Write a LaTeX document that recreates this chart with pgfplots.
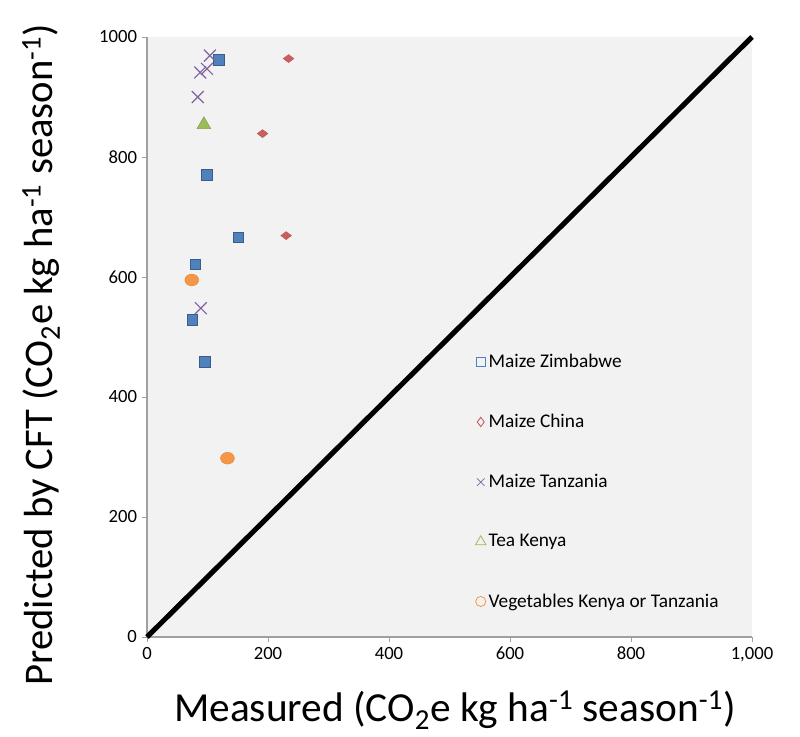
\documentclass[border=0pt]{standalone}
\usepackage{pgfplots}
\pgfplotsset{compat=1.18}
\usepackage{fontspec}
\setmainfont{Carlito}
\definecolor{cblue}{HTML}{4F81BD}
\definecolor{cblued}{HTML}{385D8A}
\definecolor{cred}{HTML}{C0504D}
\definecolor{cpurple}{HTML}{8064A2}
\definecolor{cgreen}{HTML}{9BBB59}
\definecolor{corange}{HTML}{F79646}
\definecolor{axgray}{HTML}{A0A0A0}
\begin{document}
\begin{tikzpicture}
\path[use as bounding box] (0,0) rectangle (600pt,552pt);
\begin{axis}[
  at={(110.25pt,74.25pt)}, anchor=south west,
  scale only axis, width=453.75pt, height=450pt,
  xmin=0, xmax=1000, ymin=0, ymax=1000,
  axis x line=bottom, axis y line=left,
  axis line style={draw=axgray, line width=0.8pt, -},
  axis background/.style={fill=gray!10},
  tick align=outside, major tick length=4pt,
  tick style={axgray, line width=0.6pt},
  xtick={0,200,400,600,800,1000},
  xticklabels={0,200,400,600,800,{1,000}},
  ytick={0,200,400,600,800,1000},
  yticklabels={0,200,400,600,800,1000},
  ticklabel style={font=\fontsize{14}{16}\selectfont},
  xlabel={Measured (CO\textsubscript{2}e kg ha\textsuperscript{-1} season\textsuperscript{-1})},
  ylabel={Predicted by CFT (CO\textsubscript{2}e kg ha\textsuperscript{-1} season\textsuperscript{-1})},
  xlabel style={at={(axis description cs:0.509,-0.122)}, anchor=center, font=\fontsize{31}{36}\selectfont},
  ylabel style={at={(axis description cs:-0.175,0.47)}, anchor=center, font=\fontsize{30.5}{36}\selectfont},
  clip=false,
  legend image code/.code={\draw[#1] plot coordinates {(0cm,0cm)};},
  legend style={at={(axis cs:536,481)}, anchor=north west, draw=none, fill=none,
    font=\fontsize{14.5}{16}\selectfont, row sep=29.6pt,
    /tikz/every even column/.append style={column sep=2pt}},
  legend cell align=left,
]
\addplot[black, line width=3.8pt, forget plot] coordinates {(0,0) (1000,1000)};

\addplot[only marks, mark=square*, mark size=4pt, mark options={draw=cblued, fill=cblue, line width=0.4pt}, forget plot]
  coordinates {(119,962) (99,770) (151,666) (80,621) (75,529) (95,459)};
\addplot[only marks, mark=diamond*, mark size=4pt, mark options={rotate=90, draw=cred, fill=cred!90, line width=0.3pt}, forget plot]
  coordinates {(234,964) (191,839) (230,669)};
\addplot[only marks, mark=x, mark size=6.3pt, mark options={draw=cpurple, line width=0.9pt}, forget plot]
  coordinates {(104,969) (99,947) (88,941) (84,900) (89,548)};
\addplot[only marks, mark=triangle*, mark size=6pt, mark options={draw=cgreen!85!black, fill=cgreen, line width=0.3pt}, forget plot]
  coordinates {(94,854)};
\addplot[only marks, mark=*, mark size=5.2pt, mark options={yscale=0.85, draw=corange!90!black, fill=corange, line width=0.3pt}, forget plot]
  coordinates {(74,595) (133,298)};

\addlegendimage{only marks, mark=square, mark size=3.5pt, mark options={draw=cblue, line width=0.6pt}}
\addlegendentry{Maize Zimbabwe}
\addlegendimage{only marks, mark=diamond, mark size=3.5pt, mark options={draw=cred, line width=0.6pt}}
\addlegendentry{Maize China}
\addlegendimage{only marks, mark=x, mark size=4pt, mark options={draw=cpurple, line width=0.6pt}}
\addlegendentry{Maize Tanzania}
\addlegendimage{only marks, mark=triangle, mark size=4.5pt, mark options={draw=cgreen, line width=0.6pt}}
\addlegendentry{Tea Kenya}
\addlegendimage{only marks, mark=o, mark size=3.8pt, mark options={draw=corange, line width=0.6pt}}
\addlegendentry{Vegetables Kenya or Tanzania}
\end{axis}
\end{tikzpicture}
\end{document}
